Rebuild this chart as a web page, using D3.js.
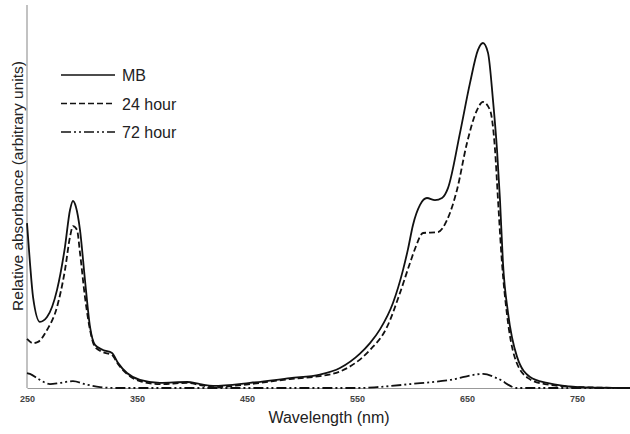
<!DOCTYPE html>
<html>
<head>
<meta charset="utf-8">
<script src="https://cdn.jsdelivr.net/npm/d3@7"></script>
<style>
  body { margin: 0; background: #fff; }
  text { font-family: Arial, "Liberation Sans", sans-serif; }
</style>
</head>
<body>
<div id="chart"></div>
<script>
// Spectra: [wavelength nm, relative absorbance]
const mb = [
  [250, 0.551], [252.7, 0.418], [255.5, 0.304], [261.8, 0.221], [268.2, 0.237],
  [277.3, 0.328], [284.5, 0.471], [289.1, 0.595], [291.8, 0.625], [294.5, 0.605],
  [298.2, 0.528], [302.7, 0.361], [307.3, 0.204], [311.8, 0.144], [319.1, 0.127],
  [327.3, 0.117], [332.7, 0.084], [340.9, 0.050], [352.7, 0.027], [370.9, 0.017],
  [395.5, 0.020], [407.3, 0.013], [419.1, 0.007], [452.7, 0.017], [489.1, 0.033],
  [516.4, 0.045], [534.5, 0.067], [552.7, 0.115], [561.8, 0.150], [570.9, 0.196],
  [582.7, 0.284], [591.8, 0.394], [596.4, 0.465], [600.9, 0.545], [607.3, 0.612],
  [613.6, 0.635], [620.9, 0.628], [627.3, 0.635], [632.7, 0.668], [643.6, 0.852],
  [652.7, 1.019], [660, 1.130], [664.5, 1.153], [669.1, 1.120], [673.6, 0.963],
  [677.3, 0.795], [680, 0.628], [682.7, 0.418], [687.3, 0.251], [695.5, 0.104],
  [707.3, 0.037], [722.7, 0.017], [752.7, 0.003], [800, 0]
];

const h24 = [
  [250, 0.164], [255.5, 0.150], [260, 0.154], [268.2, 0.194], [277.3, 0.271],
  [284.5, 0.394], [289.1, 0.505], [291.8, 0.541], [295.5, 0.528], [298.2, 0.451],
  [302.7, 0.304], [307.3, 0.194], [311.8, 0.137], [319.1, 0.120], [327.3, 0.110],
  [332.7, 0.080], [340.9, 0.047], [352.7, 0.023], [370.9, 0.013], [395.5, 0.017],
  [407.3, 0.010], [419.1, 0.003], [452.7, 0.013], [489.1, 0.030], [516.4, 0.040],
  [534.5, 0.055], [545, 0.075], [561.8, 0.127], [577.3, 0.204], [589.1, 0.318],
  [598.2, 0.418], [603, 0.468], [610, 0.518], [623.6, 0.521], [631.8, 0.561],
  [640.9, 0.662], [650, 0.819], [659.1, 0.929], [664.5, 0.956], [670.9, 0.929],
  [675.5, 0.795], [678.2, 0.628], [681.8, 0.418], [686.4, 0.244], [693.6, 0.100],
  [705.5, 0.033], [720.9, 0.013], [752.7, 0.003], [800, 0]
];

const h72 = [
  [250, 0.050], [252.7, 0.047], [261.8, 0.027], [270.9, 0.013], [280, 0.017],
  [291.8, 0.023], [302.7, 0.013], [316.4, 0.003], [331.8, 0], [450, 0],
  [550, 0], [568.2, 0.003], [598.2, 0.013], [634.5, 0.027], [664.5, 0.047],
  [677.3, 0.033], [695.5, 0], [800, 0]
];

const xTicks = [250, 350, 450, 550, 650, 750];

const series = [
  { name: 'MB', values: mb, dash: null },
  { name: '24 hour', values: h24, dash: '6,3' },
  { name: '72 hour', values: h72, dash: '10,3,2,3,2,3' }
];

const width = 630;
const height = 434;
const margin = { top: 5, right: 0, bottom: 46, left: 27 };

const svg = d3.select('#chart')
  .append('svg')
  .attr('width', width)
  .attr('height', height);

const x = d3.scaleLinear()
  .domain([250, 800])
  .range([margin.left, margin.left + 605]);

const y = d3.scaleLinear()
  .domain([0, 1.28])
  .range([height - margin.bottom, margin.top]);

// axes: plain grey lines, labels only on x
const xAxis = svg.append('g')
  .attr('transform', `translate(0,${y(0)})`)
  .call(d3.axisBottom(x).tickValues(xTicks).tickSize(0).tickPadding(8).tickFormat(d3.format('d')));
xAxis.select('.domain').attr('stroke', '#999').attr('stroke-width', 1.2);
xAxis.selectAll('text')
  .attr('font-size', 9)
  .attr('font-weight', 'bold')
  .attr('fill', '#444')
  .attr('font-family', 'Arial, "Liberation Sans", sans-serif');

svg.append('line')
  .attr('x1', x(250)).attr('x2', x(250))
  .attr('y1', y(0)).attr('y2', margin.top)
  .attr('stroke', '#999')
  .attr('stroke-width', 1.2);

const line = d3.line()
  .x(d => x(d[0]))
  .y(d => y(d[1]))
  .curve(d3.curveMonotoneX);

svg.append('g')
  .selectAll('path')
  .data(series)
  .enter()
  .append('path')
  .attr('d', d => line(d.values))
  .attr('fill', 'none')
  .attr('stroke', '#111')
  .attr('stroke-width', 1.8)
  .attr('stroke-dasharray', d => d.dash);

// legend
const legend = svg.append('g')
  .selectAll('g')
  .data(series)
  .enter()
  .append('g')
  .attr('transform', (d, i) => `translate(61,${75 + i * 28.5})`);

legend.append('line')
  .attr('x1', 0).attr('x2', 54)
  .attr('stroke', '#111')
  .attr('stroke-width', 1.6)
  .attr('stroke-dasharray', d => d.dash);

legend.append('text')
  .attr('x', 61)
  .attr('y', 6)
  .attr('font-size', 16)
  .attr('fill', '#222')
  .text(d => d.name);

// axis titles
svg.append('text')
  .attr('x', 329)
  .attr('y', 423)
  .attr('text-anchor', 'middle')
  .attr('font-size', 16)
  .attr('fill', '#222')
  .text('Wavelength (nm)');

svg.append('text')
  .attr('transform', 'translate(23,186) rotate(-90)')
  .attr('text-anchor', 'middle')
  .attr('font-size', 15.5)
  .attr('fill', '#222')
  .text('Relative absorbance (arbitrary units)');
</script>
</body>
</html>
